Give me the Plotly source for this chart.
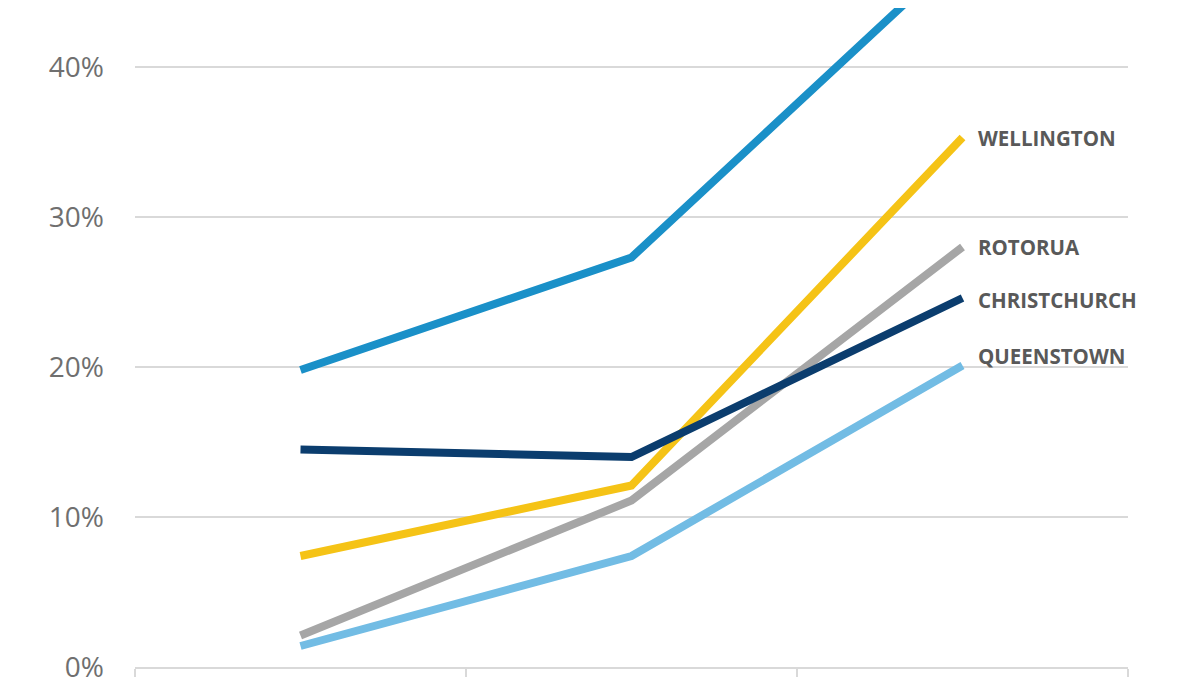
import plotly.graph_objects as go

periods = ["Period 1", "Period 2", "Period 3"]

auckland = [19.8, 27.3, 47.8]
wellington = [7.4, 12.1, 35.3]
rotorua = [2.1, 11.1, 28.0]
christchurch = [14.5, 14.0, 24.6]
queenstown = [1.4, 7.4, 20.1]

series = [
    ("AUCKLAND", auckland, "#1a90c8", False, 0),
    ("QUEENSTOWN", queenstown, "#72bce4", True, 10),
    ("ROTORUA", rotorua, "#a6a6a6", True, 0),
    ("WELLINGTON", wellington, "#f5c316", True, 0),
    ("CHRISTCHURCH", christchurch, "#0b3d6e", True, -2),
]

fig = go.Figure()
for name, vals, color, labelled, shift in series:
    fig.add_trace(go.Scatter(x=periods, y=vals, mode="lines", name=name,
                             line=dict(color=color, width=8)))
    if labelled:
        fig.add_annotation(x=periods[-1], y=vals[-1], text=f"<b>{name}</b>",
                           showarrow=False, xanchor="left", xshift=13, yshift=shift,
                           font=dict(family="Open Sans", size=20.5, color="#595959"))

# page body adds an 8px margin, so the figure is pulled in to line up
fig.update_layout(
    width=1192, height=677,
    margin=dict(l=127, r=72, t=0, b=18),
    plot_bgcolor="white", paper_bgcolor="white",
    showlegend=False,
)
fig.update_xaxes(
    type="category", range=[-0.5, 2.5],
    showgrid=False, showline=True, linecolor="#d9d9d9", linewidth=2,
    ticks="outside", tickson="boundaries", ticklen=16, tickcolor="#d9d9d9", tickwidth=2,
    showticklabels=False,
)
fig.update_yaxes(
    range=[0, 659 / 15], dtick=10, ticksuffix="%",
    showgrid=True, gridcolor="#d9d9d9", gridwidth=2, zeroline=False,
    ticklabelstandoff=30, ticklabeloverflow="allow",
    tickfont=dict(family="Open Sans", size=28, color="#6f6f6f"),
)

fig.write_html("out.html")
